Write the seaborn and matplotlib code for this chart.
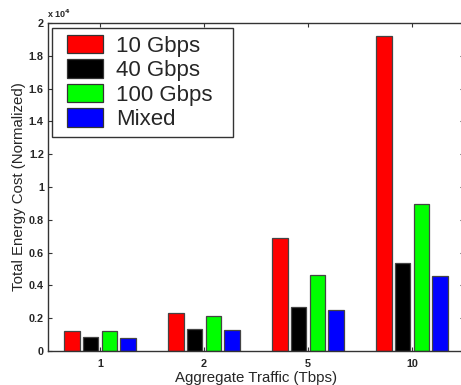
import matplotlib
matplotlib.use("Agg")
import matplotlib.pyplot as plt
import seaborn as sns
import pandas as pd
from matplotlib.patches import Patch, Rectangle
from matplotlib.legend_handler import HandlerPatch

traffic = ["1", "2", "5", "10"]
series = ["10 Gbps", "40 Gbps", "100 Gbps", "Mixed"]
v10 = [1250, 2300, 6900, 19200]
v40 = [850, 1320, 2680, 5350]
v100 = [1240, 2110, 4650, 8970]
vmix = [770, 1260, 2500, 4600]
colors = ["#FF0000", "#000000", "#00FF00", "#0000FF"]
ytick_vals = [0, 2000, 4000, 6000, 8000, 10000, 12000, 14000, 16000, 18000, 20000]
ytick_labels = ["0", "0.2", "0.4", "0.6", "0.8", "1", "1.2", "1.4", "1.6", "1.8", "2"]

rows = []
for s, vals in zip(series, [v10, v40, v100, vmix]):
    for t, v in zip(traffic, vals):
        rows.append({"traffic": t, "series": s, "value": v})
df = pd.DataFrame(rows)

sns.set_style("white")
plt.rcParams["font.family"] = ["Liberation Sans", "DejaVu Sans"]

fig = plt.figure(figsize=(4.61, 3.85), dpi=100)
W, H = 461, 385
ax = fig.add_axes([48 / W, 1 - 351 / H, (464 - 48) / W, (351 - 23) / H])

sns.barplot(data=df, x="traffic", y="value", hue="series", order=traffic,
            hue_order=series, palette=colors, saturation=1, width=0.72, gap=0.18,
            edgecolor="#444444", linewidth=0.9, ax=ax, legend=False)

ax.set_xlim(-0.5, 3.5)
ax.set_ylim(0, 20000)
ax.set_yticks(ytick_vals)
ax.set_yticklabels(ytick_labels)
ax.tick_params(axis="both", which="both", direction="in", length=3,
               top=True, right=True, left=True, bottom=True,
               labelsize=7.8, color="#333333", width=0.8)
ax.tick_params(axis="x", pad=6)
ax.tick_params(axis="y", pad=3)
for lab in ax.get_xticklabels() + ax.get_yticklabels():
    lab.set_fontweight("bold")
for sp in ax.spines.values():
    sp.set_visible(True)
    sp.set_color("#333333")
    sp.set_linewidth(1.0)

ax.set_xlabel("Aggregate Traffic (Tbps)", fontsize=10.8, labelpad=1)
ax.set_ylabel("Total Energy Cost (Normalized)", fontsize=10.8, labelpad=2)

fig.text(47 / W, 1 - 14 / H, r"x 10$^{\mathbf{4}}$", fontsize=6.5, fontweight="bold",
         ha="left", va="center")


def shifted_rect(legend, orig_handle, xdescent, ydescent, width, height, fontsize):
    off = 6
    return Rectangle((-xdescent + off, -ydescent), width - off, height)


handles = [Patch(facecolor=c, edgecolor="#333333", linewidth=0.9) for c in colors]
x0 = (52 - 48) / 416
x1 = (233 - 48) / 416
ytop = 1 - (28 - 23) / 328
leg = ax.legend(handles, series, loc="upper left", fontsize=16,
                bbox_to_anchor=(x0, ytop - 0.4, x1 - x0, 0.4), mode="expand",
                handler_map={Patch: HandlerPatch(patch_func=shifted_rect)},
                frameon=True, fancybox=False, edgecolor="black",
                handlelength=2.0, handleheight=0.9, borderpad=0.3,
                labelspacing=0.12, handletextpad=0.6, borderaxespad=0.0)
leg.get_frame().set_linewidth(1.0)

fig.savefig("out.png", dpi=100)
